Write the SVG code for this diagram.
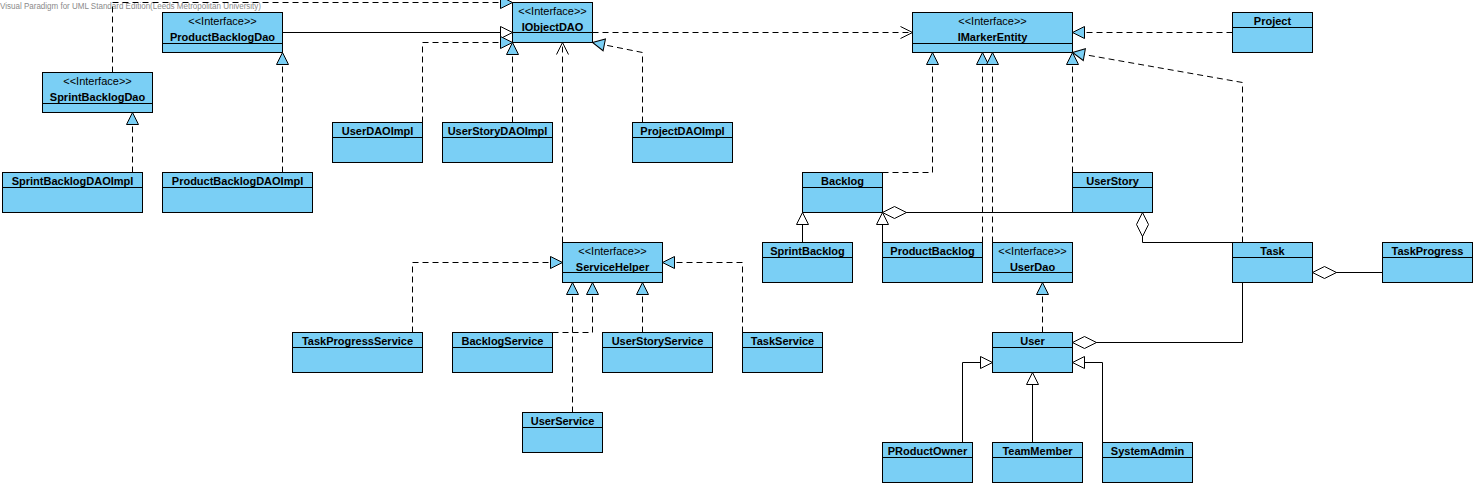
<svg xmlns="http://www.w3.org/2000/svg" width="1476" height="486" viewBox="0 0 1476 486">
<style>
.box{fill:#7ACFF5;stroke:#000;stroke-width:1}
.dv{stroke:#000;stroke-width:1}
.nm{font-family:"Liberation Sans",Arial,sans-serif;font-size:11px;font-weight:bold;text-anchor:middle;fill:#000}
.st{font-family:"Liberation Sans",Arial,sans-serif;font-size:11px;text-anchor:middle;fill:#000}
.wm{font-family:"Liberation Sans",Arial,sans-serif;font-size:8.5px;fill:#8a8a8a}
.c{fill:none;stroke:#000;stroke-width:1}
.d{stroke-dasharray:6 4}
</style>
<defs>
<marker id="real" markerUnits="userSpaceOnUse" markerWidth="14" markerHeight="14" refX="12" refY="6" orient="auto" overflow="visible"><path d="M0,0 L12,6 L0,12 Z" fill="#7ACFF5" stroke="#000" stroke-width="1"/></marker>
<marker id="gen" markerUnits="userSpaceOnUse" markerWidth="14" markerHeight="14" refX="12" refY="6" orient="auto" overflow="visible"><path d="M0,0 L12,6 L0,12 Z" fill="#fff" stroke="#000" stroke-width="1"/></marker>
<marker id="dep" markerUnits="userSpaceOnUse" markerWidth="14" markerHeight="14" refX="12" refY="6" orient="auto" overflow="visible"><path d="M0,0 L12,6 L0,12" fill="none" stroke="#000" stroke-width="1"/></marker>
<marker id="agg" markerUnits="userSpaceOnUse" markerWidth="26" markerHeight="14" refX="0" refY="6" orient="auto" overflow="visible"><path d="M0,6 L12,0 L24,6 L12,12 Z" fill="#fff" stroke="#000" stroke-width="1"/></marker>
</defs>
<rect width="1476" height="486" fill="#fff"/>
<text class="wm" x="0" y="9" textLength="261" lengthAdjust="spacingAndGlyphs">Visual Paradigm for UML Standard Edition(Leeds Metropolitan University)</text>
<g transform="translate(0.5,0.5)">
<g id="nodes">
<g id="SprintBacklogDao"><rect class="box" x="42" y="72" width="110" height="40"/><line class="dv" x1="42" y1="103" x2="152" y2="103"/><text class="st" x="97" y="84">&lt;&lt;Interface&gt;&gt;</text><text class="nm" x="97" y="100">SprintBacklogDao</text></g>
<g id="ProductBacklogDao"><rect class="box" x="162" y="12" width="120" height="40"/><line class="dv" x1="162" y1="43" x2="282" y2="43"/><text class="st" x="222" y="24">&lt;&lt;Interface&gt;&gt;</text><text class="nm" x="222" y="40">ProductBacklogDao</text></g>
<g id="IObjectDAO"><rect class="box" x="512" y="2" width="80" height="40"/><line class="dv" x1="512" y1="32" x2="592" y2="32"/><text class="st" x="552" y="14">&lt;&lt;Interface&gt;&gt;</text><text class="nm" x="552" y="30">IObjectDAO</text></g>
<g id="IMarkerEntity"><rect class="box" x="912" y="12" width="160" height="40"/><line class="dv" x1="912" y1="43" x2="1072" y2="43"/><text class="st" x="992" y="24">&lt;&lt;Interface&gt;&gt;</text><text class="nm" x="992" y="40">IMarkerEntity</text></g>
<g id="ServiceHelper"><rect class="box" x="562" y="242" width="100" height="40"/><line class="dv" x1="562" y1="272" x2="662" y2="272"/><text class="st" x="612" y="254">&lt;&lt;Interface&gt;&gt;</text><text class="nm" x="612" y="270">ServiceHelper</text></g>
<g id="UserDao"><rect class="box" x="992" y="242" width="80" height="40"/><line class="dv" x1="992" y1="272" x2="1072" y2="272"/><text class="st" x="1032" y="254">&lt;&lt;Interface&gt;&gt;</text><text class="nm" x="1032" y="270">UserDao</text></g>

<g id="SprintBacklogDAOImpl"><rect class="box" x="2" y="172" width="140" height="40"/><line class="dv" x1="2" y1="187" x2="142" y2="187"/><text class="nm" x="72" y="184">SprintBacklogDAOImpl</text></g>
<g id="ProductBacklogDAOImpl"><rect class="box" x="162" y="172" width="150" height="40"/><line class="dv" x1="162" y1="187" x2="312" y2="187"/><text class="nm" x="237" y="184">ProductBacklogDAOImpl</text></g>
<g id="UserDAOImpl"><rect class="box" x="332" y="122" width="90" height="40"/><line class="dv" x1="332" y1="137" x2="422" y2="137"/><text class="nm" x="377" y="134">UserDAOImpl</text></g>
<g id="UserStoryDAOImpl"><rect class="box" x="442" y="122" width="110" height="40"/><line class="dv" x1="442" y1="137" x2="552" y2="137"/><text class="nm" x="497" y="134">UserStoryDAOImpl</text></g>
<g id="ProjectDAOImpl"><rect class="box" x="632" y="122" width="100" height="40"/><line class="dv" x1="632" y1="137" x2="732" y2="137"/><text class="nm" x="682" y="134">ProjectDAOImpl</text></g>
<g id="Project"><rect class="box" x="1232" y="12" width="80" height="40"/><line class="dv" x1="1232" y1="27" x2="1312" y2="27"/><text class="nm" x="1272" y="24">Project</text></g>
<g id="Backlog"><rect class="box" x="802" y="172" width="80" height="40"/><line class="dv" x1="802" y1="187" x2="882" y2="187"/><text class="nm" x="842" y="184">Backlog</text></g>
<g id="UserStory"><rect class="box" x="1072" y="172" width="80" height="40"/><line class="dv" x1="1072" y1="187" x2="1152" y2="187"/><text class="nm" x="1112" y="184">UserStory</text></g>
<g id="SprintBacklog"><rect class="box" x="762" y="242" width="90" height="40"/><line class="dv" x1="762" y1="257" x2="852" y2="257"/><text class="nm" x="807" y="254">SprintBacklog</text></g>
<g id="ProductBacklog"><rect class="box" x="882" y="242" width="100" height="40"/><line class="dv" x1="882" y1="257" x2="982" y2="257"/><text class="nm" x="932" y="254">ProductBacklog</text></g>
<g id="Task"><rect class="box" x="1232" y="242" width="80" height="40"/><line class="dv" x1="1232" y1="257" x2="1312" y2="257"/><text class="nm" x="1272" y="254">Task</text></g>
<g id="TaskProgress"><rect class="box" x="1382" y="242" width="90" height="40"/><line class="dv" x1="1382" y1="257" x2="1472" y2="257"/><text class="nm" x="1427" y="254">TaskProgress</text></g>
<g id="TaskProgressService"><rect class="box" x="292" y="332" width="130" height="40"/><line class="dv" x1="292" y1="347" x2="422" y2="347"/><text class="nm" x="357" y="344">TaskProgressService</text></g>
<g id="BacklogService"><rect class="box" x="452" y="332" width="100" height="40"/><line class="dv" x1="452" y1="347" x2="552" y2="347"/><text class="nm" x="502" y="344">BacklogService</text></g>
<g id="UserStoryService"><rect class="box" x="602" y="332" width="110" height="40"/><line class="dv" x1="602" y1="347" x2="712" y2="347"/><text class="nm" x="657" y="344">UserStoryService</text></g>
<g id="TaskService"><rect class="box" x="742" y="332" width="80" height="40"/><line class="dv" x1="742" y1="347" x2="822" y2="347"/><text class="nm" x="782" y="344">TaskService</text></g>
<g id="UserService"><rect class="box" x="522" y="412" width="80" height="40"/><line class="dv" x1="522" y1="427" x2="602" y2="427"/><text class="nm" x="562" y="424">UserService</text></g>
<g id="User"><rect class="box" x="992" y="332" width="80" height="40"/><line class="dv" x1="992" y1="347" x2="1072" y2="347"/><text class="nm" x="1032" y="344">User</text></g>
<g id="PRoductOwner"><rect class="box" x="882" y="442" width="90" height="40"/><line class="dv" x1="882" y1="457" x2="972" y2="457"/><text class="nm" x="927" y="454">PRoductOwner</text></g>
<g id="TeamMember"><rect class="box" x="992" y="442" width="90" height="40"/><line class="dv" x1="992" y1="457" x2="1082" y2="457"/><text class="nm" x="1037" y="454">TeamMember</text></g>
<g id="SystemAdmin"><rect class="box" x="1102" y="442" width="90" height="40"/><line class="dv" x1="1102" y1="457" x2="1192" y2="457"/><text class="nm" x="1147" y="454">SystemAdmin</text></g>
</g>
<g id="connectors">
<path class="c d" d="M112,72 V2 H512" marker-end="url(#real)"/>
<path class="c" d="M282,32 H512" marker-end="url(#gen)"/>
<path class="c d" d="M132,172 V112" marker-end="url(#real)"/>
<path class="c d" d="M282,172 V52" marker-end="url(#real)"/>
<path class="c d" d="M422,122 V42 H512" marker-end="url(#real)"/>
<path class="c d" d="M512,122 V42" marker-end="url(#real)"/>
<path class="c d" d="M642,122 V52 L592,42" marker-end="url(#real)"/>
<path class="c d" d="M562,242 V42" marker-end="url(#dep)"/>
<path class="c d" d="M592,32 H912" marker-end="url(#dep)"/>
<path class="c d" d="M1232,32 H1072" marker-end="url(#real)"/>
<path class="c d" d="M882,172 H932 V52" marker-end="url(#real)"/>
<path class="c d" d="M982,242 V52" marker-end="url(#real)"/>
<path class="c d" d="M992,242 V52" marker-end="url(#real)"/>
<path class="c d" d="M1072,172 V52" marker-end="url(#real)"/>
<path class="c d" d="M1242,242 V82 L1072,52" marker-end="url(#real)"/>
<path class="c" d="M802,242 V212" marker-end="url(#gen)"/>
<path class="c" d="M882,242 V212" marker-end="url(#gen)"/>
<path class="c" d="M882,212 H1072" marker-start="url(#agg)"/>
<path class="c" d="M1142,212 V242 H1232" marker-start="url(#agg)"/>
<path class="c" d="M1312,272 H1382" marker-start="url(#agg)"/>
<path class="c" d="M1072,342 H1242 V282" marker-start="url(#agg)"/>
<path class="c d" d="M1042,332 V282" marker-end="url(#real)"/>
<path class="c" d="M962,442 V362 H992" marker-end="url(#gen)"/>
<path class="c" d="M1032,442 V372" marker-end="url(#gen)"/>
<path class="c" d="M1102,442 V362 H1072" marker-end="url(#gen)"/>
<path class="c d" d="M412,332 V262 H562" marker-end="url(#real)"/>
<path class="c d" d="M552,332 H592 V282" marker-end="url(#real)"/>
<path class="c d" d="M572,412 V282" marker-end="url(#real)"/>
<path class="c d" d="M642,332 V282" marker-end="url(#real)"/>
<path class="c d" d="M742,332 V262 H662" marker-end="url(#real)"/>
</g>
</g>
</svg>
